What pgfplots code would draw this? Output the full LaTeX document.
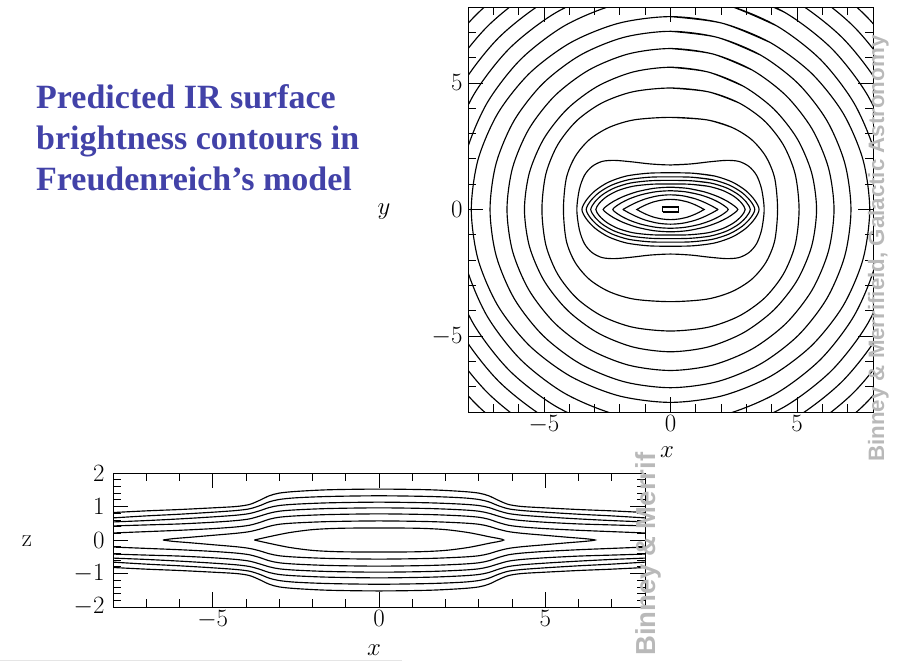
\documentclass[border=0pt]{standalone}
\usepackage[no-math]{fontspec}
\newfontfamily\titlefont{Liberation Serif}
\newfontfamily\wmfont{Liberation Sans}
\usepackage{pgfplots}
\pgfplotsset{compat=1.18}
\definecolor{titleblue}{HTML}{4242A8}
\definecolor{wmgray}{HTML}{B9B9B9}
\pgfplotsset{
  ct/.style={black, line width=1.15pt, smooth, mark=none},
  myax/.style={
    scale only axis,
    axis line style={line width=0.9pt},
    tick style={line width=0.8pt, black},
    tick align=inside,
    major tick length=15pt,
    minor tick length=8pt,
    every tick label/.append style={font=\fontsize{24.88}{28}\selectfont},
    clip=true,
  }
}
\begin{document}
\begin{tikzpicture}
\useasboundingbox (0pt,0pt) rectangle (899pt,-662pt);

% ---------------- top panel (x-y) ----------------
\begin{axis}[myax,
  at={(468pt,-412pt)}, anchor=south west,
  width=405pt, height=405pt,
  xmin=-8, xmax=8, ymin=-8, ymax=8,
  xtick={-5,0,5}, ytick={-5,0,5},
  minor xtick={-8,-7,-6,-4,-3,-2,-1,1,2,3,4,6,7,8},
  minor ytick={-8,-7,-6,-4,-3,-2,-1,1,2,3,4,6,7,8},
  xticklabel style={yshift=0pt},
  yticklabel style={xshift=-2pt},
]
% central box
\addplot[black, line width=1.1pt, sharp plot] coordinates {(-0.3,-0.1) (0.3,-0.1) (0.3,0.1) (-0.3,0.1) (-0.3,-0.1)};
% bar contours
\addplot[ct] coordinates {(0,0.4) (0.33,0.375) (0.67,0.3) (0.93,0.204) (1.13,0.111) (1.26,0.039) (1.33,0) (1.26,-0.039) (1.13,-0.111) (0.93,-0.204) (0.67,-0.3) (0.33,-0.375) (0,-0.4) (-0.33,-0.375) (-0.67,-0.3) (-0.93,-0.204) (-1.13,-0.111) (-1.26,-0.039) (-1.33,0) (-1.26,0.039) (-1.13,0.111) (-0.93,0.204) (-0.67,0.3) (-0.33,0.375) (0,0.4) (0.33,0.375) (0.67,0.3)};
\addplot[ct] coordinates {(0,0.58) (0.47,0.544) (0.94,0.435) (1.31,0.296) (1.59,0.161) (1.78,0.057) (1.87,0) (1.78,-0.057) (1.59,-0.161) (1.31,-0.296) (0.94,-0.435) (0.47,-0.544) (0,-0.58) (-0.47,-0.544) (-0.94,-0.435) (-1.31,-0.296) (-1.59,-0.161) (-1.78,-0.057) (-1.87,0) (-1.78,0.057) (-1.59,0.161) (-1.31,0.296) (-0.94,0.435) (-0.47,0.544) (0,0.58) (0.47,0.544) (0.94,0.435)};
\addplot[ct] coordinates {(0,0.74) (0.57,0.703) (1.14,0.588) (1.6,0.432) (1.94,0.266) (2.17,0.115) (2.28,0) (2.17,-0.115) (1.94,-0.266) (1.6,-0.432) (1.14,-0.588) (0.57,-0.703) (0,-0.74) (-0.57,-0.703) (-1.14,-0.588) (-1.6,-0.432) (-1.94,-0.266) (-2.17,-0.115) (-2.28,0) (-2.17,0.115) (-1.94,0.266) (-1.6,0.432) (-1.14,0.588) (-0.57,0.703) (0,0.74) (0.57,0.703) (1.14,0.588)};
\addplot[ct] coordinates {(0,0.88) (0.665,0.836) (1.33,0.699) (1.862,0.514) (2.261,0.316) (2.527,0.136) (2.66,0) (2.527,-0.136) (2.261,-0.316) (1.862,-0.514) (1.33,-0.699) (0.665,-0.836) (0,-0.88) (-0.665,-0.836) (-1.33,-0.699) (-1.862,-0.514) (-2.261,-0.316) (-2.527,-0.136) (-2.66,0) (-2.527,0.136) (-2.261,0.316) (-1.862,0.514) (-1.33,0.699) (-0.665,0.836) (0,0.88) (0.665,0.836) (1.33,0.699)};
\addplot[ct] coordinates {(0,1.01) (0.738,0.999) (1.475,0.92) (2.065,0.752) (2.508,0.519) (2.803,0.259) (2.95,0) (2.803,-0.259) (2.508,-0.519) (2.065,-0.752) (1.475,-0.92) (0.738,-0.999) (0,-1.01) (-0.738,-0.999) (-1.475,-0.92) (-2.065,-0.752) (-2.508,-0.519) (-2.803,-0.259) (-2.95,0) (-2.803,0.259) (-2.508,0.519) (-2.065,0.752) (-1.475,0.92) (-0.738,0.999) (0,1.01) (0.738,0.999) (1.475,0.92)};
\addplot[ct] coordinates {(0,1.15) (0.788,1.137) (1.575,1.048) (2.205,0.857) (2.678,0.591) (2.993,0.294) (3.15,0) (2.993,-0.294) (2.678,-0.591) (2.205,-0.857) (1.575,-1.048) (0.788,-1.137) (0,-1.15) (-0.788,-1.137) (-1.575,-1.048) (-2.205,-0.857) (-2.678,-0.591) (-2.993,-0.294) (-3.15,0) (-2.993,0.294) (-2.678,0.591) (-2.205,0.857) (-1.575,1.048) (-0.788,1.137) (0,1.15) (0.788,1.137) (1.575,1.048)};
\addplot[ct] coordinates {(0,1.29) (0.833,1.276) (1.665,1.175) (2.331,0.961) (2.831,0.663) (3.164,0.33) (3.33,0) (3.164,-0.33) (2.831,-0.663) (2.331,-0.961) (1.665,-1.175) (0.833,-1.276) (0,-1.29) (-0.833,-1.276) (-1.665,-1.175) (-2.331,-0.961) (-2.831,-0.663) (-3.164,-0.33) (-3.33,0) (-3.164,0.33) (-2.831,0.663) (-2.331,0.961) (-1.665,1.175) (-0.833,1.276) (0,1.29) (0.833,1.276) (1.665,1.175)};
\addplot[ct] coordinates {(0,1.45) (0.875,1.434) (1.75,1.321) (2.45,1.08) (2.975,0.745) (3.325,0.371) (3.5,0) (3.325,-0.371) (2.975,-0.745) (2.45,-1.08) (1.75,-1.321) (0.875,-1.434) (0,-1.45) (-0.875,-1.434) (-1.75,-1.321) (-2.45,-1.08) (-2.975,-0.745) (-3.325,-0.371) (-3.5,0) (-3.325,0.371) (-2.975,0.745) (-2.45,1.08) (-1.75,1.321) (-0.875,1.434) (0,1.45) (0.875,1.434) (1.75,1.321)};
% peanut contour
\addplot[ct] coordinates {(0,1.76) (0.8,1.8) (1.5,1.88) (2.2,1.94) (2.7,1.9) (3.1,1.7) (3.4,1.35) (3.6,0.8) (3.7,0) (3.6,-0.8) (3.4,-1.35) (3.1,-1.7) (2.7,-1.9) (2.2,-1.94) (1.5,-1.88) (0.8,-1.8) (0,-1.76) (-0.8,-1.8) (-1.5,-1.88) (-2.2,-1.94) (-2.7,-1.9) (-3.1,-1.7) (-3.4,-1.35) (-3.6,-0.8) (-3.7,0) (-3.6,0.8) (-3.4,1.35) (-3.1,1.7) (-2.7,1.9) (-2.2,1.94) (-1.5,1.88) (-0.8,1.8) (0,1.76) (0.8,1.8) (1.5,1.88)};
% disc contours
\addplot[ct] coordinates {(0,3.64) (1.434,3.542) (2.428,3.243) (3.206,2.759) (3.769,2.089) (4.116,1.234) (4.23,0) (4.116,-1.234) (3.769,-2.089) (3.206,-2.759) (2.428,-3.243) (1.434,-3.542) (0,-3.64) (-1.434,-3.542) (-2.428,-3.243) (-3.206,-2.759) (-3.769,-2.089) (-4.116,-1.234) (-4.23,0) (-4.116,1.234) (-3.769,2.089) (-3.206,2.759) (-2.428,3.243) (-1.434,3.542) (0,3.64) (1.434,3.542) (2.428,3.243)};
\addplot[ct] coordinates {(0,4.8) (1.488,4.651) (2.708,4.21) (3.708,3.504) (4.455,2.558) (4.923,1.406) (5.08,0) (4.923,-1.406) (4.455,-2.558) (3.708,-3.504) (2.708,-4.21) (1.488,-4.651) (0,-4.8) (-1.488,-4.651) (-2.708,-4.21) (-3.708,-3.504) (-4.455,-2.558) (-4.923,-1.406) (-5.08,0) (-4.923,1.406) (-4.455,2.558) (-3.708,3.504) (-2.708,4.21) (-1.488,4.651) (0,4.8) (1.488,4.651) (2.708,4.21)};
\addplot[ct] coordinates {(0,5.62) (1.494,5.429) (2.885,4.867) (4.079,3.973) (4.997,2.81) (5.574,1.456) (5.77,0) (5.574,-1.456) (4.997,-2.81) (4.079,-3.973) (2.885,-4.867) (1.494,-5.429) (0,-5.62) (-1.494,-5.429) (-2.885,-4.867) (-4.079,-3.973) (-4.997,-2.81) (-5.574,-1.456) (-5.77,0) (-5.574,1.456) (-4.997,2.81) (-4.079,3.973) (-2.885,4.867) (-1.494,5.429) (0,5.62) (1.494,5.429) (2.885,4.867)};
\addplot[ct] coordinates {(0,6.36) (1.673,6.144) (3.23,5.508) (4.567,4.497) (5.594,3.18) (6.24,1.647) (6.46,0) (6.24,-1.647) (5.594,-3.18) (4.567,-4.497) (3.23,-5.508) (1.673,-6.144) (0,-6.36) (-1.673,-6.144) (-3.23,-5.508) (-4.567,-4.497) (-5.594,-3.18) (-6.24,-1.647) (-6.46,0) (-6.24,1.647) (-5.594,3.18) (-4.567,4.497) (-3.23,5.508) (-1.673,6.144) (0,6.36) (1.673,6.144) (3.23,5.508)};
\addplot[ct] coordinates {(0,7.04) (1.847,6.801) (3.565,6.097) (5.041,4.977) (6.175,3.52) (6.888,1.823) (7.13,0) (6.888,-1.823) (6.175,-3.52) (5.041,-4.977) (3.565,-6.097) (1.847,-6.801) (0,-7.04) (-1.847,-6.801) (-3.565,-6.097) (-5.041,-4.977) (-6.175,-3.52) (-6.888,-1.823) (-7.13,0) (-6.888,1.823) (-6.175,3.52) (-5.041,4.977) (-3.565,6.097) (-1.847,6.801) (0,7.04) (1.847,6.801) (3.565,6.097)};
\addplot[ct] coordinates {(0,7.62) (2.038,7.361) (3.935,6.599) (5.564,5.387) (6.815,3.81) (7.602,1.974) (7.87,0) (7.602,-1.974) (6.815,-3.81) (5.564,-5.387) (3.935,-6.599) (2.038,-7.361) (0,-7.62) (-2.038,-7.361) (-3.935,-6.599) (-5.564,-5.387) (-6.815,-3.81) (-7.602,-1.974) (-7.87,0) (-7.602,1.974) (-6.815,3.81) (-5.564,5.387) (-3.935,6.599) (-2.038,7.361) (0,7.62) (2.038,7.361) (3.935,6.599)};
\addplot[ct] coordinates {(0,8.38) (2.17,8.095) (4.19,7.257) (5.925,5.925) (7.257,4.19) (8.095,2.17) (8.38,0) (8.095,-2.17) (7.257,-4.19) (5.925,-5.925) (4.19,-7.257) (2.17,-8.095) (0,-8.38) (-2.17,-8.095) (-4.19,-7.257) (-5.925,-5.925) (-7.257,-4.19) (-8.095,-2.17) (-8.38,0) (-8.095,2.17) (-7.257,4.19) (-5.925,5.925) (-4.19,7.257) (-2.17,8.095) (0,8.38) (2.17,8.095) (4.19,7.257)};
\addplot[ct] coordinates {(0,9) (2.331,8.694) (4.5,7.794) (6.363,6.363) (7.794,4.5) (8.694,2.331) (9,0) (8.694,-2.331) (7.794,-4.5) (6.363,-6.363) (4.5,-7.794) (2.331,-8.694) (0,-9) (-2.331,-8.694) (-4.5,-7.794) (-6.363,-6.363) (-7.794,-4.5) (-8.694,-2.331) (-9,0) (-8.694,2.331) (-7.794,4.5) (-6.363,6.363) (-4.5,7.794) (-2.331,8.694) (0,9) (2.331,8.694) (4.5,7.794)};
\addplot[ct] coordinates {(0,9.6) (2.486,9.274) (4.8,8.314) (6.787,6.787) (8.314,4.8) (9.274,2.486) (9.6,0) (9.274,-2.486) (8.314,-4.8) (6.787,-6.787) (4.8,-8.314) (2.486,-9.274) (0,-9.6) (-2.486,-9.274) (-4.8,-8.314) (-6.787,-6.787) (-8.314,-4.8) (-9.274,-2.486) (-9.6,0) (-9.274,2.486) (-8.314,4.8) (-6.787,6.787) (-4.8,8.314) (-2.486,9.274) (0,9.6) (2.486,9.274) (4.8,8.314)};
\addplot[ct] coordinates {(0,10.23) (2.65,9.882) (5.115,8.859) (7.233,7.233) (8.859,5.115) (9.882,2.65) (10.23,0) (9.882,-2.65) (8.859,-5.115) (7.233,-7.233) (5.115,-8.859) (2.65,-9.882) (0,-10.23) (-2.65,-9.882) (-5.115,-8.859) (-7.233,-7.233) (-8.859,-5.115) (-9.882,-2.65) (-10.23,0) (-9.882,2.65) (-8.859,5.115) (-7.233,7.233) (-5.115,8.859) (-2.65,9.882) (0,10.23) (2.65,9.882) (5.115,8.859)};
\addplot[ct] coordinates {(0,10.87) (2.815,10.5) (5.435,9.413) (7.685,7.685) (9.413,5.435) (10.5,2.815) (10.87,0) (10.5,-2.815) (9.413,-5.435) (7.685,-7.685) (5.435,-9.413) (2.815,-10.5) (0,-10.87) (-2.815,-10.5) (-5.435,-9.413) (-7.685,-7.685) (-9.413,-5.435) (-10.5,-2.815) (-10.87,0) (-10.5,2.815) (-9.413,5.435) (-7.685,7.685) (-5.435,9.413) (-2.815,10.5) (0,10.87) (2.815,10.5) (5.435,9.413)};
\end{axis}

% ---------------- bottom panel (x-z) ----------------
\begin{axis}[myax,
  at={(113pt,-607pt)}, anchor=south west,
  width=532pt, height=134pt,
  xmin=-8, xmax=8, ymin=-2, ymax=2,
  xtick={-5,0,5}, ytick={-2,-1,0,1,2},
  minor xtick={-8,-7,-6,-4,-3,-2,-1,1,2,3,4,6,7,8},
  minor ytick={-1.8,-1.6,-1.4,-1.2,-0.8,-0.6,-0.4,-0.2,0.2,0.4,0.6,0.8,1.2,1.4,1.6,1.8},
  xticklabel style={yshift=0pt},
  yticklabel style={xshift=-5pt},
]
% open contours, upper and lower branches
\addplot[ct] coordinates {(-8,0.82) (-7,0.87) (-6,0.91) (-5,0.96) (-4.3,1.0) (-3.9,1.06) (-3.6,1.18) (-3.3,1.32) (-3.0,1.4) (-2.5,1.45) (-1.5,1.5) (0,1.52) (1.5,1.5) (2.5,1.45) (3.0,1.4) (3.3,1.32) (3.6,1.18) (3.9,1.06) (4.3,1.0) (5,0.96) (6,0.91) (7,0.87) (8,0.82)};
\addplot[ct] coordinates {(-8,-0.82) (-7,-0.87) (-6,-0.91) (-5,-0.96) (-4.3,-1.0) (-3.9,-1.06) (-3.6,-1.18) (-3.3,-1.32) (-3.0,-1.4) (-2.5,-1.45) (-1.5,-1.5) (0,-1.52) (1.5,-1.5) (2.5,-1.45) (3.0,-1.4) (3.3,-1.32) (3.6,-1.18) (3.9,-1.06) (4.3,-1.0) (5,-0.96) (6,-0.91) (7,-0.87) (8,-0.82)};
\addplot[ct] coordinates {(-8,0.66) (-7,0.72) (-6,0.77) (-5,0.83) (-4.3,0.88) (-3.9,0.93) (-3.6,1.02) (-3.3,1.14) (-3.0,1.21) (-2.5,1.26) (-1.5,1.3) (0,1.32) (1.5,1.3) (2.5,1.26) (3.0,1.21) (3.3,1.14) (3.6,1.02) (3.9,0.93) (4.3,0.88) (5,0.83) (6,0.77) (7,0.72) (8,0.66)};
\addplot[ct] coordinates {(-8,-0.66) (-7,-0.72) (-6,-0.77) (-5,-0.83) (-4.3,-0.88) (-3.9,-0.93) (-3.6,-1.02) (-3.3,-1.14) (-3.0,-1.21) (-2.5,-1.26) (-1.5,-1.3) (0,-1.32) (1.5,-1.3) (2.5,-1.26) (3.0,-1.21) (3.3,-1.14) (3.6,-1.02) (3.9,-0.93) (4.3,-0.88) (5,-0.83) (6,-0.77) (7,-0.72) (8,-0.66)};
\addplot[ct] coordinates {(-8,0.54) (-7,0.58) (-6,0.63) (-5,0.69) (-4.3,0.74) (-3.9,0.79) (-3.6,0.87) (-3.3,0.97) (-3.0,1.03) (-2.5,1.07) (-1.5,1.11) (0,1.13) (1.5,1.11) (2.5,1.07) (3.0,1.03) (3.3,0.97) (3.6,0.87) (3.9,0.79) (4.3,0.74) (5,0.69) (6,0.63) (7,0.58) (8,0.54)};
\addplot[ct] coordinates {(-8,-0.54) (-7,-0.58) (-6,-0.63) (-5,-0.69) (-4.3,-0.74) (-3.9,-0.79) (-3.6,-0.87) (-3.3,-0.97) (-3.0,-1.03) (-2.5,-1.07) (-1.5,-1.11) (0,-1.13) (1.5,-1.11) (2.5,-1.07) (3.0,-1.03) (3.3,-0.97) (3.6,-0.87) (3.9,-0.79) (4.3,-0.74) (5,-0.69) (6,-0.63) (7,-0.58) (8,-0.54)};
\addplot[ct] coordinates {(-8,0.42) (-7,0.45) (-6,0.48) (-5,0.53) (-4.3,0.58) (-3.9,0.63) (-3.6,0.71) (-3.3,0.8) (-3.0,0.86) (-2.5,0.9) (-1.5,0.94) (0,0.96) (1.5,0.94) (2.5,0.9) (3.0,0.86) (3.3,0.8) (3.6,0.71) (3.9,0.63) (4.3,0.58) (5,0.53) (6,0.48) (7,0.45) (8,0.42)};
\addplot[ct] coordinates {(-8,-0.42) (-7,-0.45) (-6,-0.48) (-5,-0.53) (-4.3,-0.58) (-3.9,-0.63) (-3.6,-0.71) (-3.3,-0.8) (-3.0,-0.86) (-2.5,-0.9) (-1.5,-0.94) (0,-0.96) (1.5,-0.94) (2.5,-0.9) (3.0,-0.86) (3.3,-0.8) (3.6,-0.71) (3.9,-0.63) (4.3,-0.58) (5,-0.53) (6,-0.48) (7,-0.45) (8,-0.42)};
\addplot[ct] coordinates {(-8,0.21) (-7,0.25) (-6,0.29) (-5,0.34) (-4.3,0.39) (-3.9,0.44) (-3.6,0.52) (-3.3,0.62) (-3.0,0.68) (-2.5,0.72) (-1.5,0.76) (0,0.78) (1.5,0.76) (2.5,0.72) (3.0,0.68) (3.3,0.62) (3.6,0.52) (3.9,0.44) (4.3,0.39) (5,0.34) (6,0.29) (7,0.25) (8,0.21)};
\addplot[ct] coordinates {(-8,-0.21) (-7,-0.25) (-6,-0.29) (-5,-0.34) (-4.3,-0.39) (-3.9,-0.44) (-3.6,-0.52) (-3.3,-0.62) (-3.0,-0.68) (-2.5,-0.72) (-1.5,-0.76) (0,-0.78) (1.5,-0.76) (2.5,-0.72) (3.0,-0.68) (3.3,-0.62) (3.6,-0.52) (3.9,-0.44) (4.3,-0.39) (5,-0.34) (6,-0.29) (7,-0.25) (8,-0.21)};
% closed contours
\addplot[ct] coordinates {(-6.5,0) (-6.2,0.04) (-5.7,0.08) (-5,0.14) (-4.3,0.2) (-3.9,0.25) (-3.6,0.32) (-3.3,0.41) (-3.0,0.47) (-2.5,0.51) (-1.5,0.55) (0,0.57) (1.5,0.55) (2.5,0.51) (3.0,0.47) (3.3,0.41) (3.6,0.32) (3.9,0.25) (4.3,0.2) (5,0.14) (5.7,0.08) (6.2,0.04) (6.5,0) (6.2,-0.04) (5.7,-0.08) (5,-0.14) (4.3,-0.2) (3.9,-0.25) (3.6,-0.32) (3.3,-0.41) (3.0,-0.47) (2.5,-0.51) (1.5,-0.55) (0,-0.57) (-1.5,-0.55) (-2.5,-0.51) (-3.0,-0.47) (-3.3,-0.41) (-3.6,-0.32) (-3.9,-0.25) (-4.3,-0.2) (-5,-0.14) (-5.7,-0.08) (-6.2,-0.04) (-6.5,0)};
\addplot[ct] coordinates {(-3.75,0) (-3.3,0.1) (-2.7,0.22) (-2.0,0.31) (-1.2,0.35) (0,0.36) (1.2,0.35) (2.0,0.31) (2.7,0.22) (3.3,0.1) (3.75,0) (3.3,-0.1) (2.7,-0.22) (2.0,-0.31) (1.2,-0.35) (0,-0.36) (-1.2,-0.35) (-2.0,-0.31) (-2.7,-0.22) (-3.3,-0.1) (-3.75,0)};
\end{axis}

% ---------------- texts ----------------
\node[anchor=north west, align=left, text=titleblue, inner sep=0pt,
      font=\titlefont\bfseries\fontsize{34}{41}\selectfont] at (36pt,-84pt)
  {Predicted IR surface\\brightness contours in\\Freudenreich’s model};

\node[font=\fontsize{24.88}{28}\selectfont] at (667pt,-452pt) {$x$};
\node[font=\fontsize{24.88}{28}\selectfont] at (384pt,-212pt) {$y$};
\node[font=\fontsize{24.88}{28}\selectfont] at (374pt,-650pt) {$x$};
\node[font=\fontsize{24.88}{28}\selectfont] at (27pt,-541pt) {$\mathrm{z}$};

\node[rotate=90, anchor=base west, inner sep=0pt, text=wmgray,
      font=\wmfont\bfseries\fontsize{22.3}{24}\selectfont] at (884pt,-462pt)
  {Binney \& Merrifield, Galactic Astronomy};
\node[rotate=90, anchor=base west, inner sep=0pt, text=wmgray,
      font=\wmfont\bfseries\fontsize{27.5}{30}\selectfont] at (655pt,-656pt)
  {Binney \& Merrif};

\draw[black!10, line width=1.2pt] (0pt,-660.5pt) -- (402pt,-660.5pt);
\end{tikzpicture}
\end{document}
